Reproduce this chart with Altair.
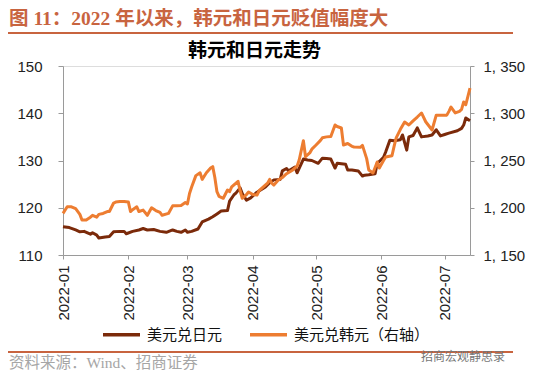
import altair as alt
import pandas as pd

# ---- data ----
series_names = ["美元兑日元", "美元兑韩元（右轴）"]
series_colors = ["#7B2A0A", "#ED7D31"]

# days since 2022-01-01
jpy_day = [0, 3, 6, 8, 10, 13, 14, 16, 17, 20, 22, 24, 27, 29, 30, 33, 36, 38, 40, 43,
           46, 49, 52, 54, 56, 58, 59, 61, 64, 66, 69, 71, 73, 75, 78, 79, 81, 82, 84, 85,
           87, 89, 92, 96, 98, 100, 103, 104, 106, 107, 110, 111, 114, 116, 118, 121, 123,
           125, 127, 129, 130, 134, 135, 137, 140, 142, 143, 145, 148, 149, 150, 152, 153,
           155, 157, 160, 161, 163, 164, 166, 168, 170, 173, 175, 177, 179, 181, 183, 187,
           189, 190, 191, 193]
jpy_val = [116.0, 115.8, 115.3, 114.9, 115.0, 114.4, 114.7, 114.2, 113.6, 113.8,
           113.9, 114.9, 115.0, 115.0, 114.5, 115.0, 115.3, 115.6, 115.3, 115.4,
           115.0, 114.8, 115.3, 115.0, 114.8, 115.3, 114.8, 115.0, 115.5, 117.0,
           117.6, 118.1, 118.7, 119.3, 119.4, 121.4, 122.7, 123.1, 124.2, 123.0,
           121.6, 122.1, 123.3, 124.4, 125.3, 125.9, 126.0, 127.8, 128.3, 127.8,
           128.6, 127.4, 130.3, 130.1, 130.0, 129.4, 130.5, 130.4, 130.3, 128.4,
           129.4, 129.2, 128.0, 128.0, 127.8, 126.7, 126.9, 127.0, 127.2, 129.4,
           129.8, 130.7, 131.8, 134.3, 134.2, 134.4, 135.4, 132.2, 135.0, 135.3,
           136.9, 135.0, 135.2, 135.4, 136.5, 135.2, 135.5, 135.8, 136.3, 136.8,
           137.5, 139.0, 138.4]

krw_day = [0, 2, 4, 6, 8, 9, 11, 13, 14, 16, 17, 19, 21, 22, 24, 25, 27, 29, 31, 32,
           33, 35, 36, 38, 40, 42, 44, 46, 47, 50, 52, 54, 56, 58, 59, 60, 61, 63, 65, 66,
           68, 70, 71, 72, 73, 74, 76, 78, 79, 80, 83, 84, 85, 87, 88, 90, 92, 93, 95, 97,
           98, 99, 100, 102, 104, 106, 109, 111, 112, 114, 115, 117, 118, 120, 122, 123,
           125, 127, 129, 130, 132, 133, 135, 137, 138, 141, 142, 144, 145, 147, 149, 150,
           152, 153, 156, 157, 158, 160, 162, 164, 166, 168, 170, 172, 175, 177, 180, 182,
           183, 184, 186, 188, 189, 190, 191, 193]
krw_val = [1194, 1201, 1201, 1199, 1193, 1187, 1187, 1190, 1192, 1190,
           1193, 1194, 1196, 1196, 1205, 1206, 1206.5, 1206.5, 1206, 1196,
           1198, 1201, 1196, 1197.5, 1192, 1200, 1197, 1195, 1192, 1194,
           1202, 1202, 1202.5, 1205.5, 1204, 1215, 1222, 1234, 1237, 1230,
           1237, 1242, 1243.5, 1232, 1217, 1212, 1210, 1218.8, 1217, 1222,
           1228, 1218, 1210, 1214, 1216.7, 1214, 1213.5, 1218, 1222, 1226,
           1230, 1226, 1224, 1229, 1232, 1236, 1240, 1244, 1250.5, 1271,
           1254, 1258, 1262, 1266.4, 1271, 1274, 1275, 1275.5, 1287.6, 1286,
           1284.4, 1266.4, 1268, 1265, 1264.3, 1264, 1266, 1252, 1240, 1236.8,
           1248.4, 1242, 1250, 1253.7, 1255, 1265, 1274, 1283, 1290.7, 1287.6,
           1292, 1296, 1300.3, 1291, 1282.3, 1298, 1298, 1298, 1302, 1306.6,
           1300.3, 1302, 1304, 1312, 1309, 1326.7]

month_ticks = [1, 2, 3, 4, 5, 6, 7]
left_ticks = [110, 120, 130, 140, 150]
right_ticks = [1150, 1200, 1250, 1300, 1350]

# ---- tables ----
base_date = pd.Timestamp("2022-01-01")
jpy_df = pd.DataFrame({
    "date": base_date + pd.to_timedelta(jpy_day, unit="D"),
    "value": jpy_val,
    "series": series_names[0],
})
krw_df = pd.DataFrame({
    "date": base_date + pd.to_timedelta(krw_day, unit="D"),
    "value": krw_val,
    "series": series_names[1],
})

W, H = 407, 189
AXIS_GRAY = "#9A9A9A"
ACCENT = "#C8643F"
CJK = "Noto Sans CJK SC"

x_enc = alt.X(
    "date:T",
    scale=alt.Scale(domain=[alt.DateTime(year=2022, month=1, date=1),
                            alt.DateTime(year=2022, month=7, date=13)]),
    axis=alt.Axis(
        title=None,
        values=[alt.DateTime(year=2022, month=m, date=1) for m in month_ticks],
        format="%Y-%m",
        labelAngle=-90,
        labelFontSize=15,
        labelFont="Liberation Sans",
        labelColor="#222222",
        labelPadding=6,
        tickSize=4,
        tickColor=AXIS_GRAY,
        domainColor=AXIS_GRAY,
        grid=False,
        labelOverlap=False,
    ),
)

color_enc = alt.Color(
    "series:N",
    scale=alt.Scale(domain=series_names, range=series_colors),
    legend=alt.Legend(
        title=None,
        orient="none",
        direction="horizontal",
        legendX=38,
        legendY=248,
        symbolType="stroke",
        symbolSize=1369,
        symbolStrokeWidth=3.5,
        labelFontSize=15,
        labelFont=CJK,
        labelColor="#111111",
        labelOffset=5,
        columnPadding=20,
        padding=0,
    ),
)

jpy_line = alt.Chart(jpy_df).mark_line(strokeWidth=3, strokeJoin="round").encode(
    x=x_enc,
    y=alt.Y(
        "value:Q",
        scale=alt.Scale(domain=[110, 150], nice=False, zero=False),
        axis=alt.Axis(
            title=None, orient="left", values=left_ticks,
            labelFontSize=15, labelFont="Liberation Sans", labelColor="#222222",
            labelPadding=16, tickSize=5, tickColor=AXIS_GRAY,
            domainColor=AXIS_GRAY, grid=False,
        ),
    ),
    color=color_enc,
)

krw_line = alt.Chart(krw_df).mark_line(strokeWidth=3, strokeJoin="round").encode(
    x=x_enc,
    y=alt.Y(
        "value:Q",
        scale=alt.Scale(domain=[1150, 1350], nice=False, zero=False),
        axis=alt.Axis(
            title=None, orient="right", values=right_ticks,
            labelExpr="replace(format(datum.value, ','), ',', ', ')",
            labelFontSize=15, labelFont="Liberation Sans", labelColor="#222222",
            labelPadding=9, tickSize=4, tickColor=AXIS_GRAY,
            domainColor=AXIS_GRAY, grid=False,
        ),
    ),
    color=color_enc,
)

one = pd.DataFrame({"k": [0]})


def text(t, x, y, size, color, weight="normal", font=CJK, align="left"):
    return alt.Chart(one).mark_text(
        text=t, fontSize=size, color=color, fontWeight=weight, font=font,
        align=align, baseline="middle",
    ).encode(x=alt.value(x), y=alt.value(y))


def hline(x1, x2, y):
    return alt.Chart(one).mark_rule(color=ACCENT, strokeWidth=2).encode(
        x=alt.value(x1), x2=alt.value(x2), y=alt.value(y))


decor = [
    text("图 11：2022 年以来，韩元和日元贬值幅度大", -54, -47, 19.5, ACCENT, "bold",
         font="Liberation Serif, " + CJK),
    hline(-55, 450, -33),
    text("韩元和日元走势", 191.5, -15, 19, "#000000", "bold", align="center"),
    hline(-55, 450, 286),
    text("资料来源：Wind、招商证券", -54, 297, 15.5, "#A6A6A6",
         font="Liberation Serif, " + CJK),
    text("招商宏观静思录", 358, 291, 12, "#777777"),
]

chart = alt.layer(jpy_line, krw_line, *decor).resolve_scale(
    y="independent"
).properties(
    width=W, height=H,
    autosize=alt.AutoSizeParams(type="none"),
    padding={"left": 55, "top": 58, "right": 78, "bottom": 119},
).configure_view(stroke=None).configure(background="white")

chart.save("out.html", embed_options={"renderer": "svg", "actions": False})
